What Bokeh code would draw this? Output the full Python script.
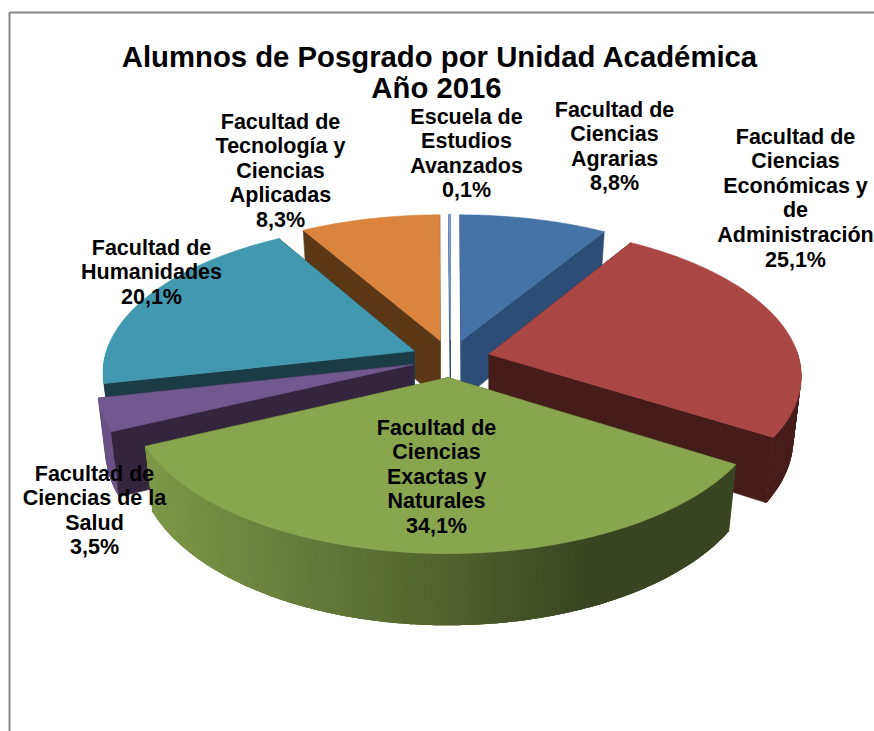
import math
from bokeh.plotting import figure
from bokeh.models import ColumnDataSource, Range1d
from bokeh.core.properties import value
from bokeh.embed import file_html
from bokeh.resources import INLINE

# ---- data ----
units = ["Facultad de Ciencias Agrarias",
         "Facultad de Ciencias Económicas y de Administración",
         "Facultad de Ciencias Exactas y Naturales",
         "Facultad de Ciencias de la Salud",
         "Facultad de Humanidades",
         "Facultad de Tecnología y Ciencias Aplicadas",
         "Escuela de Estudios Avanzados"]
shares = [8.8, 25.1, 34.1, 3.5, 20.1, 8.3, 0.1]
share_text = ["8,8%", "25,1%", "34,1%", "3,5%", "20,1%", "8,3%", "0,1%"]
title_lines = ["Alumnos de Posgrado por Unidad Académica", "Año 2016"]
label_lines = [["Facultad de", "Ciencias", "Agrarias"],
               ["Facultad de", "Ciencias", "Económicas y", "de", "Administración"],
               ["Facultad de", "Ciencias", "Exactas y", "Naturales"],
               ["Facultad de", "Ciencias de la", "Salud"],
               ["Facultad de", "Humanidades"],
               ["Facultad de", "Tecnología y", "Ciencias", "Aplicadas"],
               ["Escuela de", "Estudios", "Avanzados"]]

# ---- style and layout ----
top_colors = ["#4572a7", "#aa4643", "#89a54e", "#71588f", "#4198af", "#db843d", "#7f9fd0"]
wall_colors = ["#2c4d75", "#451c1a", "#36421c", "#33253e", "#1b3b47", "#5b3716", "#2c4d75"]
draw_order = [5, 6, 0, 4, 1, 3, 2]
label_anchor = [(614, 109), (795, 136), (436, 427), (94, 473), (151, 247), (280, 121), (466, 116)]
LINE_H = 24.6
CX, CY, RX, RY, PERSP, EXPLODE, DEPTH, SHRINK = 450, 358, 310, 147, 0.133, 0.128, 61, 0.975
SHADE = [(90, .95), (146, .92), (300, .75), (440, .60), (590, .42), (900, .42)]


def hex_rgb(h):
    return [int(h[i:i + 2], 16) for i in (1, 3, 5)]


def shade(color, f):
    return "#%02x%02x%02x" % tuple(int(c * f) for c in hex_rgb(color))


def shade_at(x):
    for (x0, f0), (x1, f1) in zip(SHADE, SHADE[1:]):
        if x <= x1:
            return f0 + (f1 - f0) * max(0, x - x0) / (x1 - x0)
    return SHADE[-1][1]


def project(theta, radius, mid):
    u = radius * math.sin(theta) + EXPLODE * math.sin(mid)
    v = radius * math.cos(theta) + EXPLODE * math.cos(mid)
    s = 1 / (1 + PERSP * v)
    return CX + RX * u * s, CY - RY * v * s, s


total = sum(shares)
starts, a = [], 0.0
for sh in shares:
    starts.append(a)
    a += sh / total * 2 * math.pi

xs, ys, fills, lws = [], [], [], []


def add(px, py, c, lw):
    xs.append(px)
    ys.append(py)
    fills.append(c)
    lws.append(lw)


for i in draw_order:
    t0 = starts[i]
    t1 = t0 + shares[i] / total * 2 * math.pi
    mid = (t0 + t1) / 2
    ax, ay, as_ = project(0, 0, mid)
    n = max(3, int((t1 - t0) * 90))
    thetas = [t0 + (t1 - t0) * k / n for k in range(n + 1)]
    rim = [project(t, 1, mid) for t in thetas]

    def low(p):
        return ax + (p[0] - ax) * SHRINK, p[1] + DEPTH * p[2]

    a_low = low((ax, ay, as_))

    def wall(e):
        el = low(e)
        add([ax, e[0], el[0], a_low[0]], [ay, e[1], el[1], a_low[1]], wall_colors[i], 0.6)

    # the wall at the start of a slice faces the viewer on the left half, the
    # wall at its end on the right half; the others lie behind the slice
    start_seen = math.sin(t0) < 0
    end_seen = math.sin(t1) > 0
    if not start_seen:
        wall(rim[0])
    if not end_seen:
        wall(rim[-1])
    # outer rim, front-facing part only; each strip runs under the next so no seams show
    front = [k for k in range(n) if math.cos((thetas[k] + thetas[k + 1]) / 2) < 0.05]
    for k in front:
        chunk = [rim[j] for j in range(k, min(k + 4, n + 1)) if j == n or j in front or j == k + 1]
        lows = [low(q) for q in chunk]
        f = shade_at((rim[k][0] + rim[k + 1][0]) / 2)
        add([q[0] for q in chunk] + [q[0] for q in lows[::-1]],
            [q[1] for q in chunk] + [q[1] for q in lows[::-1]],
            shade(top_colors[i], f), 0)
    if start_seen:
        wall(rim[0])
    if end_seen:
        wall(rim[-1])
    # top face
    add([ax] + [q[0] for q in rim], [ay] + [q[1] for q in rim], top_colors[i], 0.6)

p = figure(width=874, height=731, x_range=Range1d(0, 874), y_range=Range1d(731, 0),
           x_axis_location=None, y_axis_location=None, toolbar_location=None,
           output_backend="svg", min_border=0, outline_line_color=None,
           background_fill_color="white", border_fill_color="white")
p.grid.visible = False

p.line([9, 9, 874], [731, 12, 12], line_color="#868686", line_width=2)
p.patches("xs", "ys", source=ColumnDataSource(dict(xs=xs, ys=ys, c=fills, lw=lws)),
          fill_color="c", line_color="c", line_width="lw")

tx, ty, tt = [], [], []
for lines, pct, (lx, ly) in zip(label_lines, share_text, label_anchor):
    for k, t in enumerate(lines + [pct]):
        tx.append(lx)
        ty.append(ly + k * LINE_H)
        tt.append(t)
p.text(tx, ty, text=tt, text_font=value("Liberation Sans"), text_font_style="bold",
       text_font_size="21.5px", text_align="center", text_baseline="middle", text_color="black")
p.text([439.5, 436], [56, 87], text=title_lines, text_font=value("Liberation Sans"),
       text_font_style="bold", text_font_size="29.3px", text_align="center",
       text_baseline="middle", text_color="black")

open("out.html", "w").write(file_html(p, INLINE))
